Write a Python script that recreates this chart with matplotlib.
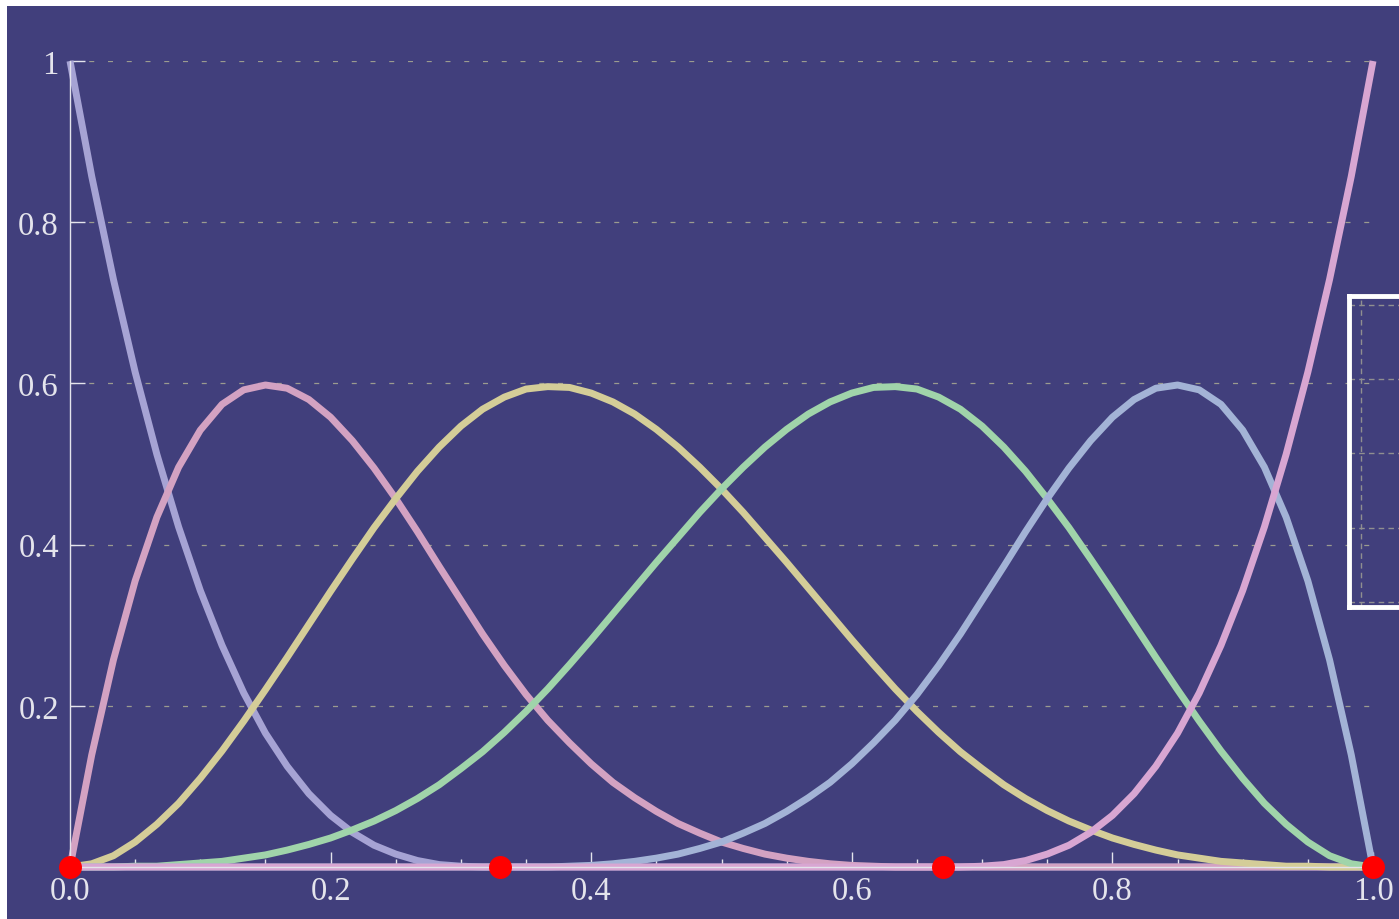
import numpy as np
import matplotlib
matplotlib.use('Agg')
import matplotlib.pyplot as plt
from matplotlib.patches import Rectangle
from matplotlib.ticker import MultipleLocator

# cubic B-spline basis on [0, 1], interior knots at 1/3 and 2/3
# each basis sampled at 61 evenly spaced points in [0, 1]
x_samples = np.linspace(0.0, 1.0, 61)

basis_0 = [1.000, 0.857, 0.729, 0.614, 0.512, 0.422, 0.343, 0.275, 0.216, 0.166,
           0.125, 0.091, 0.064, 0.043, 0.027, 0.016, 0.008, 0.003, 0.001, 0.000,
           0.000] + [0.0] * 40
basis_1 = [0.000, 0.139, 0.257, 0.355, 0.434, 0.496, 0.542, 0.574, 0.592, 0.598,
           0.594, 0.580, 0.558, 0.529, 0.495, 0.457, 0.416, 0.373, 0.331, 0.289,
           0.250, 0.214, 0.182, 0.154, 0.128, 0.105, 0.086, 0.069, 0.054, 0.042,
           0.031, 0.023, 0.016, 0.011, 0.007, 0.004, 0.002, 0.001, 0.000, 0.000,
           0.000] + [0.0] * 20
basis_2 = [0.000, 0.004, 0.014, 0.031, 0.053, 0.079, 0.110, 0.144, 0.181, 0.220,
           0.260, 0.301, 0.342, 0.382, 0.421, 0.457, 0.491, 0.521, 0.547, 0.568,
           0.583, 0.593, 0.596, 0.595, 0.588, 0.577, 0.562, 0.543, 0.521, 0.496,
           0.469, 0.440, 0.409, 0.378, 0.346, 0.314, 0.282, 0.251, 0.221, 0.193,
           0.167, 0.143, 0.122, 0.102, 0.085, 0.070, 0.057, 0.046, 0.036, 0.028,
           0.021, 0.015, 0.011, 0.007, 0.005, 0.003, 0.001, 0.001, 0.000, 0.000,
           0.000]
basis_3 = [0.000, 0.000, 0.000, 0.001, 0.001, 0.003, 0.005, 0.007, 0.011, 0.015,
           0.021, 0.028, 0.036, 0.046, 0.057, 0.070, 0.085, 0.102, 0.122, 0.143,
           0.167, 0.193, 0.221, 0.251, 0.282, 0.314, 0.346, 0.378, 0.409, 0.440,
           0.469, 0.496, 0.521, 0.543, 0.562, 0.577, 0.588, 0.595, 0.596, 0.593,
           0.583, 0.568, 0.547, 0.521, 0.491, 0.457, 0.421, 0.382, 0.342, 0.301,
           0.260, 0.220, 0.181, 0.144, 0.110, 0.079, 0.053, 0.031, 0.014, 0.004,
           0.000]
basis_4 = [0.0] * 20 + [
           0.000, 0.000, 0.000, 0.001, 0.002, 0.004, 0.007, 0.011, 0.016, 0.023,
           0.031, 0.042, 0.054, 0.069, 0.086, 0.105, 0.128, 0.154, 0.182, 0.214,
           0.250, 0.289, 0.331, 0.373, 0.416, 0.457, 0.495, 0.529, 0.558, 0.580,
           0.594, 0.598, 0.592, 0.574, 0.542, 0.496, 0.434, 0.355, 0.257, 0.139,
           0.000]
basis_5 = [0.0] * 40 + [
           0.000, 0.000, 0.001, 0.003, 0.008, 0.016, 0.027, 0.043, 0.064, 0.091,
           0.125, 0.166, 0.216, 0.275, 0.343, 0.422, 0.512, 0.614, 0.729, 0.857,
           1.000]

# knot markers
knots = [0.0, 0.33, 0.67, 1.0]
knot_y = [0.0, 0.0, 0.0, 0.0]

curve_colors = ['#a6a3d4', '#d3a2c2', '#d4cd98', '#a0d4aa', '#a3b3d6', '#d8a6d2']

bg = '#413f7c'
fg = '#e4e4ec'

fig = plt.figure(figsize=(13.99, 9.2), dpi=100, facecolor='white')
fig.add_artist(Rectangle((7 / 1399, 0), 1, 913 / 920, transform=fig.transFigure,
                         facecolor=bg, edgecolor='none', zorder=-10))

ax = fig.add_axes([70 / 1399, 52 / 920, 1303 / 1399, 806 / 920])
ax.set_facecolor('none')

for ys, c in zip([basis_0, basis_1, basis_2, basis_3, basis_4, basis_5], curve_colors):
    ax.plot(x_samples, ys, color=c, lw=5, clip_on=False, solid_capstyle='butt',
            solid_joinstyle='round', zorder=3)

ax.plot(knots, knot_y, 'o', color='#ff0000', markersize=15.5, clip_on=False, zorder=6)

ax.set_xlim(0, 1)
ax.set_ylim(0, 1)

for side in ['top', 'right']:
    ax.spines[side].set_visible(False)
for side in ['left', 'bottom']:
    ax.spines[side].set_color(fg)
    ax.spines[side].set_linewidth(1.0)
    ax.spines[side].set_zorder(4)

ax.xaxis.set_major_locator(MultipleLocator(0.2))
ax.xaxis.set_minor_locator(MultipleLocator(0.05))
ax.set_yticks([0.2, 0.4, 0.6, 0.8, 1.0])
ax.set_yticklabels(['0.2', '0.4', '0.6', '0.8', '1'])
ax.set_xticks([0.0, 0.2, 0.4, 0.6, 0.8, 1.0])
ax.set_xticklabels(['0.0', '0.2', '0.4', '0.6', '0.8', '1.0'])

for lab in ax.get_xticklabels() + ax.get_yticklabels():
    lab.set_fontfamily('Liberation Serif')
    lab.set_fontsize(23.5)
    lab.set_color(fg)

ax.tick_params(axis='both', which='major', direction='in', length=10.5, width=1.0,
               color=fg)
ax.tick_params(axis='x', which='minor', direction='in', length=5.5, width=1.0, color=fg)
ax.tick_params(axis='x', which='major', pad=6)
ax.tick_params(axis='y', which='major', pad=8)

ax.yaxis.grid(True, linestyle=(0, (4, 11)), linewidth=0.9, color='#9b9b8f', zorder=1)
ax.set_axisbelow(True)

# clipped panel frame on the right edge
box = fig.add_axes([1349 / 1399, 312 / 920, 0.05, 311 / 920])
box.set_facecolor('none')
box.set_xlim(0, 1)
box.set_ylim(0, 1)
box.set_xticks([])
box.set_yticks([])
for s in box.spines.values():
    s.set_color('white')
    s.set_linewidth(3.5)
for yy in [0.016, 0.254, 0.495, 0.733, 0.971]:
    box.axhline(yy, color='#8f8f90', lw=1.0, linestyle=(0, (4, 3)))
box.axvline(0.171, color='#8f8f90', lw=1.0, linestyle=(0, (4, 3)))

fig.savefig('out.png', dpi=100, facecolor=fig.get_facecolor())
